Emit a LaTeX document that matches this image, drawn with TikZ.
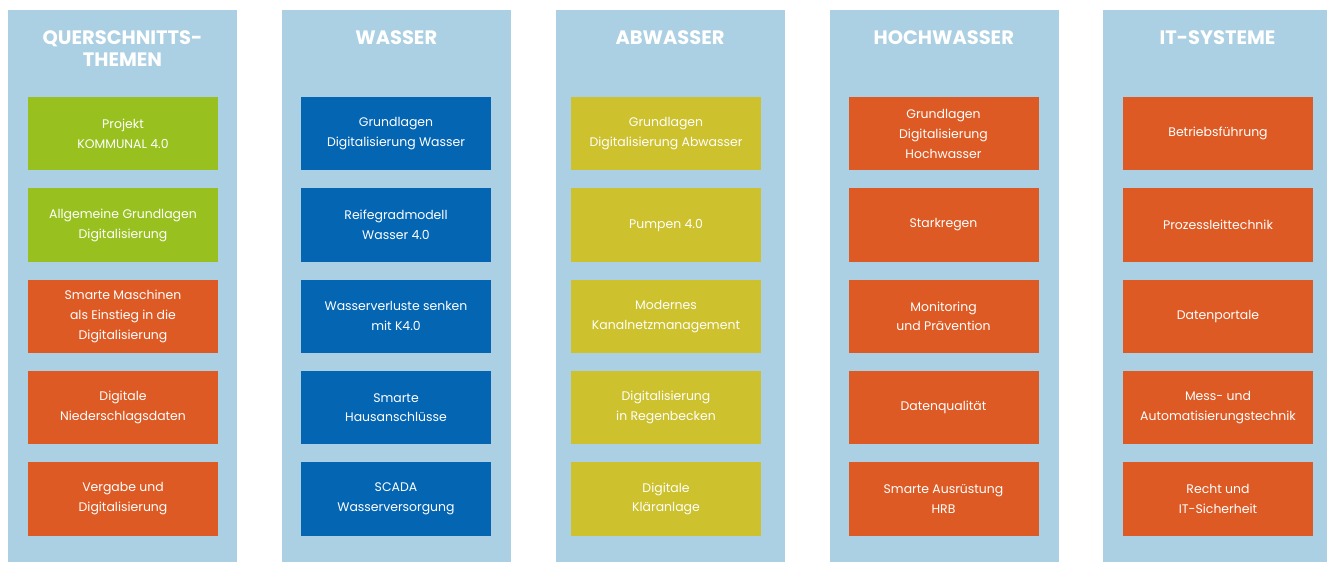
\documentclass[tikz,border=0pt]{standalone}
\usepackage{fontspec}
\setmainfont{Poppins}
\definecolor{colbg}{RGB}{172,208,227}
\definecolor{kgreen}{RGB}{152,193,31}
\definecolor{korange}{RGB}{221,90,36}
\definecolor{kblue}{RGB}{4,101,179}
\definecolor{kolive}{RGB}{205,193,45}
\tikzset{
  coltitle/.style={anchor=base, text=white, align=center,
    font=\fontsize{19.5}{22.5}\selectfont\bfseries, inner sep=0pt},
  topicbox/.style={fill=#1, draw=none, text=white, align=center,
    minimum width=190bp, minimum height=73.5bp, inner sep=2bp,
    font=\fontsize{12.5}{20}\selectfont},
}
\begin{document}
\begin{tikzpicture}[x=1bp, y=-1bp]
\useasboundingbox (0,0) rectangle (1327,562);
% column panels
\foreach \l/\w in {8/229,282/228.5,556/229,830/228.5,1103/224}{
  \fill[colbg] (\l,10) rectangle ++(\w,552);
}
% column titles (base anchor sits on the last line)
\node[coltitle] (t1) at (122.5,66.5) {QUERSCHNITTS-\\THEMEN};
\node[coltitle] (t2) at (396.25,44.5) {WASSER};
\node[coltitle] (t3) at (670,44.5) {ABWASSER};
\node[coltitle] (t4) at (943.75,44.5) {HOCHWASSER};
\node[coltitle] (t5) at (1217.5,44.5) {IT-SYSTEME};
% cross-cutting topics
\node[topicbox=kgreen]  (q1) at (123,133.75) {Projekt\\KOMMUNAL 4.0};
\node[topicbox=kgreen]  (q2) at (123,225.05) {Allgemeine Grundlagen\\Digitalisierung};
\node[topicbox=korange] (q3) at (123,316.35) {Smarte Maschinen\\als Einstieg in die\\Digitalisierung};
\node[topicbox=korange] (q4) at (123,407.65) {Digitale\\Niederschlagsdaten};
\node[topicbox=korange] (q5) at (123,498.95) {Vergabe und\\Digitalisierung};
% water supply
\node[topicbox=kblue] (w1) at (396,133.75) {Grundlagen\\Digitalisierung Wasser};
\node[topicbox=kblue] (w2) at (396,225.05) {Reifegradmodell\\Wasser 4.0};
\node[topicbox=kblue] (w3) at (396,316.35) {Wasserverluste senken\\mit K4.0};
\node[topicbox=kblue] (w4) at (396,407.65) {Smarte\\Hausanschl\"usse};
\node[topicbox=kblue] (w5) at (396,498.95) {SCADA\\Wasserversorgung};
% waste water
\node[topicbox=kolive] (a1) at (666,133.75) {Grundlagen\\Digitalisierung Abwasser};
\node[topicbox=kolive] (a2) at (666,225.05) {Pumpen 4.0};
\node[topicbox=kolive] (a3) at (666,316.35) {Modernes\\Kanalnetzmanagement};
\node[topicbox=kolive] (a4) at (666,407.65) {Digitalisierung\\in Regenbecken};
\node[topicbox=kolive] (a5) at (666,498.95) {Digitale\\Kl\"aranlage};
% flood protection
\node[topicbox=korange] (h1) at (943.5,133.75) {Grundlagen\\Digitalisierung\\Hochwasser};
\node[topicbox=korange] (h2) at (943.5,225.05) {Starkregen};
\node[topicbox=korange] (h3) at (943.5,316.35) {Monitoring\\und Pr\"avention};
\node[topicbox=korange] (h4) at (943.5,407.65) {Datenqualit\"at};
\node[topicbox=korange] (h5) at (943.5,498.95) {Smarte Ausr\"ustung\\HRB};
% IT systems
\node[topicbox=korange] (s1) at (1218,133.75) {Betriebsf\"uhrung};
\node[topicbox=korange] (s2) at (1218,225.05) {Prozessleittechnik};
\node[topicbox=korange] (s3) at (1218,316.35) {Datenportale};
\node[topicbox=korange] (s4) at (1218,407.65) {Mess- und\\Automatisierungstechnik};
\node[topicbox=korange] (s5) at (1218,498.95) {Recht und\\IT-Sicherheit};
\end{tikzpicture}
\end{document}
